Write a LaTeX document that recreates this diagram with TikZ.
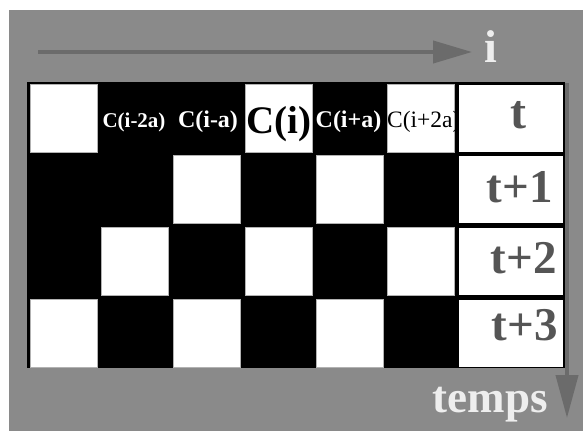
\documentclass[tikz,border=0pt]{standalone}
\usepackage{fontspec}
\setmainfont{Liberation Serif}
\usetikzlibrary{arrows.meta}
\definecolor{panel}{HTML}{8A8A8A}
\definecolor{axis}{HTML}{6B6B6B}
\definecolor{pale}{HTML}{EEEEEE}
\definecolor{ink}{HTML}{555555}
\newcommand{\fsz}[1]{\fontsize{#1}{#1}\selectfont}
\begin{document}
\begin{tikzpicture}[x=1pt,y=-1pt,
  wcell/.style={fill=white, draw=gray!60, line width=0.6pt,
    minimum width=67pt, minimum height=68pt, inner sep=0pt},
  tcell/.style={fill=white, minimum width=104pt, minimum height=67pt, inner sep=0pt},
  lbl/.style={inner sep=0pt, font=\bfseries},
  tlbl/.style={inner sep=0pt, text=ink, font=\bfseries\fsz{47}},
  axisarrow/.style={draw=axis, line width=4pt,
    -{Triangle[length=39pt,width=22pt]}}]
\useasboundingbox (0,0) rectangle (583,431);
\fill[white] (0,0) rectangle (583,431);
\fill[panel] (9,10) rectangle (583,431);

% board background
\fill[black] (27,82) rectangle (565,368);

% white squares of the board
\node[wcell] (r1c1) at (63.5,118) {};
\node[wcell] (r1c4) at (278.5,118) {};
\node[wcell] (r1c6) at (420.5,118) {};
\node[wcell] (r2c3) at (207,189.5) {};
\node[wcell] (r2c5) at (349.5,189.5) {};
\node[wcell] (r3c2) at (134.5,261.5) {};
\node[wcell] (r3c4) at (278.5,261.5) {};
\node[wcell] (r3c6) at (420.5,261.5) {};
\node[wcell] (r4c1) at (63.5,333) {};
\node[wcell] (r4c3) at (207,333) {};
\node[wcell] (r4c5) at (349.5,333) {};

% time column
\node[tcell] (t0) at (511,118) {};
\node[tcell] (t1) at (511,189.5) {};
\node[tcell] (t2) at (511,261.5) {};
\node[tcell] (t3) at (511,333) {};

% cell labels of the first row
\node[lbl, text=white, font=\bfseries\fsz{21}, anchor=base] (lm2) at (134,127) {C(i-2a)};
\node[lbl, text=white, font=\bfseries\fsz{24}, anchor=base] (lm1) at (208,127) {C(i-a)};
\node[lbl, text=black, font=\bfseries\fsz{39}, anchor=base] (l0) at (278.5,133) {C(i)};
\node[lbl, text=white, font=\bfseries\fsz{24}, anchor=base] (lp1) at (348.5,127) {C(i+a)};
\begin{scope}
  \clip (387,84) rectangle (454,152);
  \node[inner sep=0pt, text=black, font=\fsz{23.5}, anchor=base west] (lp2) at (387,127) {C(i+2a)};
\end{scope}

% time labels
\node[tlbl, font=\bfseries\fsz{48}, anchor=base] (tl0) at (518,128) {t};
\node[tlbl, anchor=base east] (tl1) at (553,202) {t+1};
\node[tlbl, anchor=base east] (tl2) at (557,273) {t+2};
\node[tlbl, anchor=base east] (tl3) at (558,340) {t+3};

% axes
\coordinate (hstart) at (38,52);
\coordinate (hend) at (472,52);
\coordinate (vstart) at (567,83);
\coordinate (vend) at (567,418);
\draw[axisarrow] (hstart) -- (hend);
\draw[axisarrow, -{Triangle[length=43pt,width=22pt]}] (vstart) -- (vend);

\node[inner sep=0pt, text=pale, font=\bfseries\fsz{46}, anchor=base] (ilbl) at (491,62) {i};
\node[inner sep=0pt, text=pale, font=\bfseries\fsz{45}, anchor=base east] (tlbl) at (548,412) {temps};
\end{tikzpicture}
\end{document}
